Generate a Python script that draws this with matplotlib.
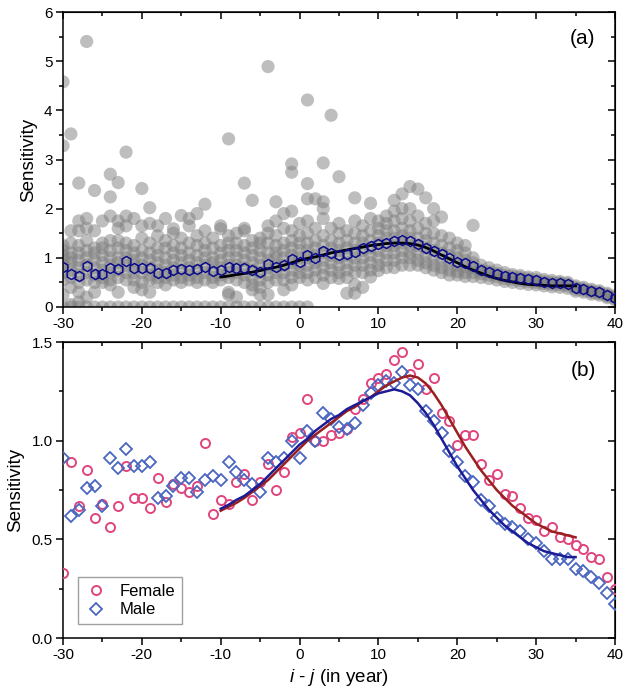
import matplotlib
matplotlib.use("Agg")
import matplotlib.pyplot as plt
from matplotlib.ticker import MultipleLocator, FormatStrFormatter

plt.rcParams['font.family'] = ['Liberation Sans', 'DejaVu Sans']
plt.rcParams['mathtext.fontset'] = 'custom'
plt.rcParams['mathtext.it'] = 'Liberation Sans:italic'
plt.rcParams['mathtext.rm'] = 'Liberation Sans'
plt.rcParams['axes.unicode_minus'] = False

# ---------------- data ----------------
x_all = list(range(-30, 41))

# panel (a): individual grey points per i-j
cloud = [
    [0.0, 0.25, 0.55, 0.7, 0.85, 0.95, 1.05, 1.15, 1.25, 3.28, 4.58],
    [0.0, 0.05, 0.4, 0.6, 0.75, 0.9, 1.0, 1.1, 1.3, 1.55, 3.52],
    [0.0, 0.1, 0.3, 0.5, 0.65, 0.8, 0.95, 1.1, 1.25, 1.55, 1.75, 2.52],
    [0.0, 0.2, 0.55, 0.7, 0.85, 1.0, 1.15, 1.35, 1.6, 1.8, 5.40],
    [0.0, 0.3, 0.5, 0.65, 0.8, 0.95, 1.1, 1.2, 1.55, 2.37],
    [0.0, 0.5, 0.6, 0.75, 0.9, 1.05, 1.2, 1.3, 1.75],
    [0.0, 0.45, 0.55, 0.7, 0.85, 1.0, 1.15, 1.35, 1.85, 2.24, 2.70],
    [0.0, 0.3, 0.6, 0.75, 0.9, 1.0, 1.2, 1.35, 1.6, 1.75, 2.53],
    [0.0, 0.55, 0.7, 0.85, 1.0, 1.15, 1.3, 1.65, 1.85, 3.15],
    [0.0, 0.4, 0.55, 0.7, 0.85, 0.95, 1.1, 1.25, 1.8],
    [0.0, 0.35, 0.5, 0.7, 0.85, 1.0, 1.15, 1.4, 1.65, 2.41],
    [0.0, 0.3, 0.55, 0.65, 0.8, 0.95, 1.1, 1.3, 1.7, 2.02],
    [0.0, 0.5, 0.6, 0.75, 0.9, 1.05, 1.2, 1.45, 1.65],
    [0.0, 0.45, 0.6, 0.7, 0.85, 1.0, 1.2, 1.35, 1.8],
    [0.0, 0.55, 0.65, 0.8, 0.95, 1.1, 1.25, 1.5, 1.59],
    [0.0, 0.5, 0.6, 0.75, 0.9, 1.05, 1.2, 1.4, 1.86],
    [0.0, 0.55, 0.65, 0.8, 0.95, 1.1, 1.3, 1.65, 1.80],
    [0.0, 0.5, 0.6, 0.75, 0.9, 1.05, 1.25, 1.45, 1.90],
    [0.0, 0.55, 0.7, 0.85, 1.0, 1.15, 1.3, 1.55, 2.09],
    [0.0, 0.5, 0.6, 0.75, 0.9, 1.0, 1.2, 1.4],
    [0.0, 0.55, 0.65, 0.8, 0.95, 1.1, 1.25, 1.59, 1.65],
    [0.0, 0.25, 0.3, 0.6, 0.7, 0.85, 1.0, 1.15, 1.3, 1.45, 3.42],
    [0.0, 0.2, 0.55, 0.7, 0.85, 1.0, 1.15, 1.3, 1.5],
    [0.0, 0.5, 0.65, 0.8, 0.95, 1.1, 1.25, 1.55, 1.6, 2.52],
    [0.0, 0.35, 0.45, 0.6, 0.75, 0.9, 1.05, 1.2, 1.35, 2.17],
    [0.0, 0.25, 0.4, 0.55, 0.7, 0.85, 1.0, 1.15, 1.3, 1.4],
    [0.0, 0.25, 0.5, 0.65, 0.8, 0.95, 1.1, 1.3, 1.5, 1.65, 4.89],
    [0.0, 0.55, 0.7, 0.85, 1.0, 1.1, 1.25, 1.45, 1.75, 2.14],
    [0.0, 0.35, 0.55, 0.7, 0.85, 1.0, 1.15, 1.3, 1.6, 1.9],
    [0.0, 0.45, 0.6, 0.75, 0.9, 1.05, 1.2, 1.35, 1.55, 1.95, 2.74, 2.91],
    [0.0, 0.6, 0.7, 0.85, 1.0, 1.15, 1.3, 1.45, 1.7],
    [0.0, 0.55, 0.7, 0.85, 1.0, 1.15, 1.3, 1.5, 1.75, 2.2, 2.51, 4.21],
    [0.6, 0.75, 0.9, 1.05, 1.2, 1.35, 1.6, 2.2],
    [0.48, 0.65, 0.8, 0.95, 1.1, 1.25, 1.45, 1.8, 2.0, 2.14, 2.93],
    [0.6, 0.75, 0.9, 1.05, 1.2, 1.35, 1.6, 3.9],
    [0.58, 0.7, 0.85, 1.0, 1.15, 1.3, 1.5, 1.7, 2.65],
    [0.28, 0.6, 0.75, 0.9, 1.05, 1.2, 1.35, 1.55],
    [0.28, 0.45, 0.7, 0.85, 1.0, 1.15, 1.3, 1.5, 1.75, 2.22],
    [0.4, 0.7, 0.85, 1.0, 1.15, 1.3, 1.45, 1.65],
    [0.61, 0.75, 0.9, 1.05, 1.2, 1.35, 1.55, 1.8, 2.11],
    [0.74, 0.85, 1.0, 1.15, 1.3, 1.45, 1.6, 1.75],
    [0.8, 0.95, 1.1, 1.25, 1.4, 1.55, 1.7, 1.85],
    [0.8, 0.95, 1.1, 1.25, 1.4, 1.55, 1.75, 1.95, 2.17],
    [0.85, 1.0, 1.15, 1.3, 1.45, 1.6, 1.8, 2.0, 2.3],
    [0.85, 1.0, 1.1, 1.25, 1.4, 1.55, 1.75, 2.0, 2.45],
    [0.85, 0.95, 1.1, 1.25, 1.4, 1.6, 1.85, 2.4],
    [0.8, 0.9, 1.05, 1.2, 1.35, 1.5, 1.7, 2.22],
    [0.75, 0.85, 1.0, 1.15, 1.3, 1.5, 1.75, 2.0],
    [0.7, 0.8, 0.95, 1.1, 1.25, 1.45, 1.83],
    [0.65, 0.75, 0.9, 1.05, 1.2, 1.4],
    [0.65, 0.72, 0.85, 1.0, 1.15, 1.3],
    [0.62, 0.7, 0.82, 0.95, 1.1, 1.25],
    [0.62, 0.7, 0.8, 0.9, 1.0, 1.66],
    [0.6, 0.68, 0.75, 0.85],
    [0.58, 0.65, 0.72, 0.8],
    [0.55, 0.62, 0.68, 0.75],
    [0.52, 0.58, 0.64, 0.7],
    [0.5, 0.56, 0.62, 0.66],
    [0.48, 0.54, 0.6, 0.64],
    [0.46, 0.52, 0.57, 0.61],
    [0.45, 0.5, 0.55, 0.6],
    [0.43, 0.48, 0.52, 0.56],
    [0.41, 0.46, 0.5, 0.54],
    [0.4, 0.45, 0.49, 0.52],
    [0.38, 0.43, 0.47, 0.5],
    [0.32, 0.36, 0.4, 0.43],
    [0.3, 0.34, 0.37, 0.4],
    [0.26, 0.3, 0.33, 0.36],
    [0.24, 0.27, 0.3, 0.33],
    [0.19, 0.22, 0.25, 0.28],
    [0.14, 0.17, 0.2, 0.23],
]

# panel (a): mean per i-j (hexagons)
mean_all = [0.82, 0.67, 0.63, 0.84, 0.68, 0.68, 0.80, 0.78, 0.93, 0.79,
            0.80, 0.80, 0.70, 0.70, 0.76, 0.78, 0.76, 0.78, 0.82, 0.74,
            0.76, 0.81, 0.80, 0.80, 0.75, 0.72, 0.87, 0.82, 0.86, 0.97,
            0.91, 1.05, 1.00, 1.14, 1.09, 1.05, 1.07, 1.11, 1.19, 1.24,
            1.28, 1.31, 1.34, 1.37, 1.34, 1.29, 1.19, 1.14, 1.07, 0.99,
            0.92, 0.89, 0.84, 0.75, 0.72, 0.67, 0.64, 0.61, 0.59, 0.56,
            0.55, 0.51, 0.49, 0.48, 0.47, 0.38, 0.36, 0.32, 0.30, 0.24,
            0.18]

# fitted curves (at integer i-j, from -10 to 35)
x_fit = list(range(-10, 36))
fit_all = [0.61, 0.63, 0.66, 0.68, 0.71, 0.74, 0.78, 0.81, 0.85, 0.90,
           0.95, 0.99, 1.02, 1.06, 1.10, 1.13, 1.16, 1.19, 1.22, 1.25,
           1.27, 1.29, 1.30, 1.30, 1.29, 1.26, 1.21, 1.14, 1.06, 0.98,
           0.90, 0.82, 0.75, 0.69, 0.63, 0.58, 0.54, 0.51, 0.48, 0.46,
           0.45, 0.44, 0.43, 0.43, 0.43, 0.43]

# panel (b)
female = [0.33, 0.89, 0.67, 0.85, 0.61, 0.68, 0.56, 0.67, 0.87, 0.71,
          0.71, 0.66, 0.81, 0.69, 0.78, 0.76, 0.74, 0.77, 0.99, 0.63,
          0.70, 0.68, 0.79, 0.83, 0.70, 0.79, 0.88, 0.75, 0.84, 1.02,
          1.04, 1.21, 1.00, 1.00, 1.03, 1.04, 1.06, 1.16, 1.21, 1.29,
          1.32, 1.34, 1.41, 1.45, 1.34, 1.39, 1.26, 1.32, 1.14, 1.10,
          0.98, 1.03, 1.03, 0.88, 0.80, 0.83, 0.73, 0.72, 0.66, 0.61,
          0.60, 0.54, 0.56, 0.51, 0.50, 0.47, 0.45, 0.41, 0.40, 0.31,
          0.25]
male = [0.91, 0.62, 0.65, 0.76, 0.77, 0.67, 0.91, 0.86, 0.96, 0.87,
        0.87, 0.89, 0.71, 0.72, 0.77, 0.81, 0.81, 0.74, 0.80, 0.82,
        0.80, 0.89, 0.84, 0.80, 0.78, 0.74, 0.91, 0.89, 0.91, 1.00,
        0.91, 1.05, 1.00, 1.14, 1.11, 1.07, 1.06, 1.09, 1.18, 1.24,
        1.28, 1.30, 1.29, 1.35, 1.28, 1.26, 1.15, 1.10, 1.04, 0.95,
        0.89, 0.82, 0.79, 0.70, 0.67, 0.61, 0.58, 0.56, 0.54, 0.50,
        0.48, 0.44, 0.40, 0.40, 0.40, 0.35, 0.34, 0.31, 0.28, 0.23,
        0.17]
fit_female = [0.645, 0.665, 0.685, 0.71, 0.74, 0.77, 0.80, 0.84, 0.88, 0.92,
              0.96, 1.00, 1.03, 1.06, 1.09, 1.12, 1.15, 1.17, 1.20, 1.22,
              1.25, 1.28, 1.30, 1.32, 1.33, 1.32, 1.29, 1.24, 1.18, 1.11,
              1.04, 0.97, 0.91, 0.85, 0.80, 0.75, 0.71, 0.67, 0.64, 0.61,
              0.58, 0.56, 0.54, 0.53, 0.52, 0.51]
fit_male = [0.655, 0.675, 0.70, 0.72, 0.75, 0.78, 0.82, 0.86, 0.90, 0.94,
            0.98, 1.01, 1.05, 1.08, 1.11, 1.13, 1.16, 1.18, 1.20, 1.22,
            1.24, 1.25, 1.26, 1.25, 1.23, 1.19, 1.14, 1.08, 1.01, 0.94,
            0.87, 0.81, 0.75, 0.70, 0.65, 0.61, 0.57, 0.54, 0.51, 0.48,
            0.46, 0.44, 0.43, 0.42, 0.41, 0.41]

# ---------------- figure ----------------
W, H = 624, 692
fig = plt.figure(figsize=(W / 100, H / 100), dpi=100)
ax1 = fig.add_axes([63 / W, 1 - 307 / H, 552 / W, 295 / H])
ax2 = fig.add_axes([63 / W, 1 - 638 / H, 552 / W, 296 / H])

FS = 11


def style(ax, ymaj, ymin):
    ax.set_xlim(-30, 40)
    ax.xaxis.set_major_locator(MultipleLocator(10))
    ax.xaxis.set_minor_locator(MultipleLocator(5))
    ax.yaxis.set_major_locator(MultipleLocator(ymaj))
    ax.yaxis.set_minor_locator(MultipleLocator(ymin))
    for s in ax.spines.values():
        s.set_linewidth(1.1)
    ax.tick_params(which='both', direction='out', width=1.1, labelsize=FS,
                   top=False, right=False, pad=2.5)
    ax.tick_params(which='major', length=5)
    ax.tick_params(which='minor', length=3)
    sec = ax.secondary_xaxis('top')
    sec.xaxis.set_major_locator(MultipleLocator(10))
    sec.xaxis.set_minor_locator(MultipleLocator(5))
    sec.tick_params(which='both', direction='in', width=1.1, labeltop=False)
    sec.tick_params(which='major', length=5)
    sec.tick_params(which='minor', length=3)
    secy = ax.secondary_yaxis('right')
    secy.yaxis.set_major_locator(MultipleLocator(ymaj))
    secy.yaxis.set_minor_locator(MultipleLocator(ymin))
    secy.tick_params(which='both', direction='in', width=1.1, labelright=False)
    secy.tick_params(which='major', length=5)
    secy.tick_params(which='minor', length=3)


# panel (a)
cx, cy = [], []
for xi, col in zip(x_all, cloud):
    for v in col:
        cx.append(xi)
        cy.append(v)
ax1.scatter(cx, cy, s=90, c='#7f7f7f', alpha=0.5, edgecolors='none', zorder=1)
ax1.plot(x_fit, fit_all, color='black', lw=2.0, zorder=3)
ax1.plot(x_all, mean_all, linestyle='none', marker='h', ms=7.2,
         mfc='none', mec='#0c0c8a', mew=1.1, zorder=4)
ax1.set_ylim(0, 6)
style(ax1, 1, 0.5)
ax1.set_ylabel('Sensitivity', fontsize=13.5, labelpad=5)
ax1.text(0.965, 0.91, '(a)', transform=ax1.transAxes, ha='right', va='center',
         fontsize=15)

# panel (b)
ax2.plot(x_all, female, linestyle='none', marker='o', ms=6.5, mfc='none',
         mec='#e0457e', mew=1.4, label='Female', zorder=3)
ax2.plot(x_all, male, linestyle='none', marker='D', ms=6, mfc='none',
         mec='#4a66c0', mew=1.3, label='Male', zorder=3)
ax2.plot(x_fit, fit_female, color='#9a1f1f', lw=1.8, zorder=4)
ax2.plot(x_fit, fit_male, color='#1c1c96', lw=1.8, zorder=4)
ax2.set_ylim(0, 1.5)
style(ax2, 0.5, 0.25)
ax2.yaxis.set_major_formatter(FormatStrFormatter('%.1f'))
ax2.set_ylabel('Sensitivity', fontsize=13.5, labelpad=5)
ax2.set_xlabel(r'$\it{i}$ - $\it{j}$ (in year)', fontsize=13.5, labelpad=3)
ax2.text(0.965, 0.905, '(b)', transform=ax2.transAxes, ha='right', va='center',
         fontsize=15)
leg = ax2.legend(loc='lower left', bbox_to_anchor=(0.027, 0.047), frameon=True,
                 fancybox=False, edgecolor='#888888', fontsize=12,
                 handletextpad=0.7, borderpad=0.4, labelspacing=0.2,
                 handlelength=1.4, borderaxespad=0)
leg.get_frame().set_linewidth(1.0)

fig.savefig('out.png', dpi=100)
